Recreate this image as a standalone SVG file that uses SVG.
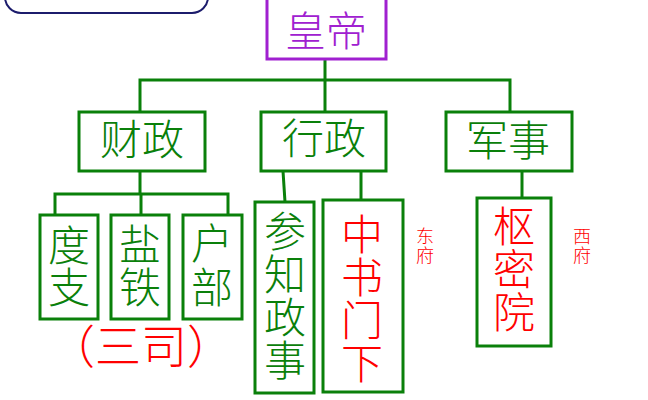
<svg xmlns="http://www.w3.org/2000/svg" width="648" height="400" viewBox="0 0 648 400">
<style>
.box{fill:#fff;stroke:#0a800a;stroke-width:3}
.ln{fill:none;stroke:#0a800a;stroke-width:3}
.t{font-family:"Noto Sans CJK SC","Noto Sans CJK JP",sans-serif;font-weight:300;text-anchor:middle;dominant-baseline:central}
.g{fill:#0a800a}
.r{fill:#ff0000}
.p{fill:#a020d0}
.big{font-size:42px}
.sm{font-size:18px}
</style>
<rect width="648" height="400" fill="#fff"/>
<g id="banner"><rect x="5" y="-40" width="203" height="53" rx="16" ry="16" fill="#fff" stroke="#1c1c6c" stroke-width="2"/></g>
<g id="connectors">
<path class="ln" d="M325 59V112M140 80H510M140 78.5V112M510 78.5V112"/>
<path class="ln" d="M140 171V194M55 194H228M55 192.5V215M141 194V215M228 192.5V215"/>
<path class="ln" d="M283 171L285 202M361 171V200"/>
<path class="ln" d="M522 171V198"/>
</g>
<g id="huangdi"><rect x="267" y="-2" width="119" height="61" fill="#fff" stroke="#a020d0" stroke-width="3"/><text class="t p" style="font-size:41px" x="326" y="28">皇帝</text></g>
<g id="caizheng"><rect class="box" x="79" y="112" width="126" height="59"/><text class="t g big" x="142" y="136">财政</text></g>
<g id="xingzheng"><rect class="box" x="261" y="112" width="125" height="59"/><text class="t g big" x="324" y="135">行政</text></g>
<g id="junshi"><rect class="box" x="446" y="112" width="126" height="59"/><text class="t g big" x="508" y="137">军事</text></g>
<g id="duzhi"><rect class="box" x="40" y="215" width="58" height="104"/><text class="t g big" x="69" y="242">度</text><text class="t g big" x="69" y="284">支</text></g>
<g id="yantie"><rect class="box" x="111" y="215" width="58" height="104"/><text class="t g big" x="140" y="241">盐</text><text class="t g big" x="140" y="284">铁</text></g>
<g id="hubu"><rect class="box" x="183" y="215" width="59" height="104"/><text class="t g big" x="212" y="240">户</text><text class="t g big" x="212" y="284">部</text></g>
<g id="sansi"><text class="t r" style="font-size:46px" x="141" y="343">（三司）</text></g>
<g id="canzhizhengshi"><rect class="box" x="255" y="202" width="59" height="191"/><text class="t g big" x="285" y="228">参</text><text class="t g big" x="285" y="271">知</text><text class="t g big" x="285" y="314">政</text><text class="t g big" x="285" y="357">事</text></g>
<g id="zhongshumenxia"><rect class="box" x="323" y="200" width="80" height="192"/><text class="t r big" x="362" y="231">中</text><text class="t r big" x="362" y="274">书</text><text class="t r big" x="362" y="317">门</text><text class="t r big" x="362" y="360">下</text></g>
<g id="dongfu"><text class="t r sm" x="425" y="235">东</text><text class="t r sm" x="425" y="254">府</text></g>
<g id="shumiyuan"><rect class="box" x="477" y="198" width="74" height="148"/><text class="t r big" x="514" y="223">枢</text><text class="t r big" x="514" y="266">密</text><text class="t r big" x="514" y="309">院</text></g>
<g id="xifu"><text class="t r sm" x="582" y="235">西</text><text class="t r sm" x="582" y="254">府</text></g>
</svg>
